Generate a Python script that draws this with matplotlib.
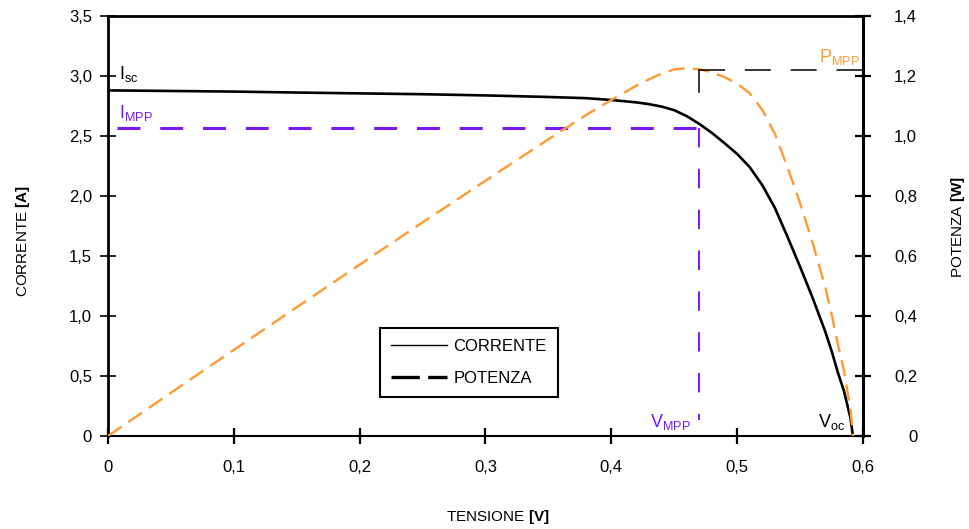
import matplotlib
matplotlib.use("Agg")
import matplotlib.pyplot as plt
from matplotlib.lines import Line2D

plt.rcParams['font.family'] = ['Liberation Sans', 'DejaVu Sans']
plt.rcParams['mathtext.fontset'] = 'custom'
plt.rcParams['mathtext.rm'] = 'Liberation Sans'
plt.rcParams['mathtext.it'] = 'Liberation Sans:italic'
plt.rcParams['mathtext.bf'] = 'Liberation Sans:bold'

# data
tensione = [0, 0.05, 0.1, 0.15, 0.2, 0.25, 0.3, 0.35, 0.38, 0.4, 0.42, 0.43, 0.44,
            0.45, 0.46, 0.47, 0.48, 0.49, 0.5, 0.51, 0.52, 0.53, 0.54, 0.55, 0.56,
            0.57, 0.575, 0.58, 0.585, 0.59, 0.592]
corrente = [2.88, 2.875, 2.87, 2.862, 2.855, 2.848, 2.838, 2.825, 2.815, 2.80, 2.78,
            2.765, 2.745, 2.715, 2.665, 2.60, 2.525, 2.44, 2.35, 2.24, 2.09, 1.90,
            1.66, 1.41, 1.15, 0.87, 0.71, 0.53, 0.37, 0.15, 0.0]
potenza = [0, 0.144, 0.287, 0.429, 0.571, 0.712, 0.851, 0.989, 1.070, 1.120, 1.168,
           1.189, 1.208, 1.222, 1.226, 1.222, 1.212, 1.196, 1.175, 1.142, 1.087,
           1.007, 0.896, 0.776, 0.644, 0.496, 0.408, 0.307, 0.216, 0.089, 0.0]

v_mpp = 0.47
i_mpp = 2.57
p_mpp = 1.22

x_ticks = [0, 0.1, 0.2, 0.3, 0.4, 0.5, 0.6]
x_labels = ["0", "0,1", "0,2", "0,3", "0,4", "0,5", "0,6"]
i_ticks = [0, 0.5, 1.0, 1.5, 2.0, 2.5, 3.0, 3.5]
i_labels = ["0", "0,5", "1,0", "1,5", "2,0", "2,5", "3,0", "3,5"]
p_ticks = [0, 0.2, 0.4, 0.6, 0.8, 1.0, 1.2, 1.4]
p_labels = ["0", "0,2", "0,4", "0,6", "0,8", "1,0", "1,2", "1,4"]

purple = '#7a18f2'
orange = '#ff9a33'

fig = plt.figure(figsize=(9.7, 5.29), dpi=100)
ax = fig.add_axes([0.1113, 0.1758, 0.7784, 0.794])
ax2 = ax.twinx()

ax.set_xlim(0, 0.6)
ax.set_ylim(0, 3.5)
ax2.set_ylim(0, 1.4)

# current curve
ax.plot(tensione, corrente, color='black', lw=1.9, zorder=3)

# MPP guides on current axis
ax.plot([0.007, v_mpp], [i_mpp, i_mpp], color=purple, lw=2.2, dashes=(7.5, 6.5), zorder=2)
ax.plot([v_mpp, v_mpp], [i_mpp, 0.13], color=purple, lw=1.4, dashes=(10, 11), zorder=2)

# power curve + guides on twin axis
ax2.plot(tensione, potenza, color=orange, lw=1.7, dashes=(7, 3.5))
ax2.plot([v_mpp, 0.6], [p_mpp, p_mpp], color='black', lw=1.1, dashes=(17, 13))
ax2.plot([v_mpp, v_mpp], [p_mpp, 1.145], color='black', lw=1.1)

# annotations
ax.text(0.009, 2.93, r"I$_{\rm sc}$", fontsize=13, ha='left', va='bottom')
ax.text(0.009, 2.61, r"I$_{\rm MPP}$", fontsize=13, ha='left', va='bottom', color=purple)
ax.text(0.4635, 0.035, r"V$_{\rm MPP}$", fontsize=13, ha='right', va='bottom', color=purple)
ax.text(0.586, 0.035, r"V$_{\rm oc}$", fontsize=13, ha='right', va='bottom')
ax2.text(0.5978, 1.23, r"P$_{\rm MPP}$", fontsize=13, ha='right', va='bottom', color=orange)

# axes styling
ax.set_xticks(x_ticks)
ax.set_xticklabels(x_labels)
ax.set_yticks(i_ticks)
ax.set_yticklabels(i_labels)
ax2.set_yticks(p_ticks)
ax2.set_yticklabels(p_labels)

ax.tick_params(axis='x', direction='inout', length=11, width=1.6, labelsize=12, pad=12)
ax.tick_params(axis='y', direction='inout', length=11, width=1.2, labelsize=12, pad=6)
ax2.tick_params(axis='y', direction='inout', length=12, width=1.6, labelsize=12, pad=33)
for lab in ax2.get_yticklabels():
    lab.set_horizontalalignment('right')

for s in ['left', 'top']:
    ax.spines[s].set_linewidth(2.0)
ax.spines['bottom'].set_linewidth(1.5)
ax.spines['right'].set_visible(False)
for s in ['left', 'top', 'bottom']:
    ax2.spines[s].set_visible(False)
ax2.spines['right'].set_linewidth(2.2)

# axis titles
fig.text(0.0237, 0.544, r"CORRENTE $\mathbf{[A]}$", rotation=90, fontsize=11,
         ha='center', va='center')
fig.text(0.9876, 0.571, r"POTENZA $\mathbf{[W]}$", rotation=90, fontsize=11,
         ha='center', va='center')
fig.text(0.5134, 0.0227, r"TENSIONE $\mathbf{[V]}$", fontsize=11,
         ha='center', va='center')

# legend (black handles as in the reference)
handles = [Line2D([], [], color='black', lw=1.0),
           Line2D([], [], color='black', lw=2.4, dashes=(8.5, 2.5))]
leg = ax2.legend(handles, ["CORRENTE", "POTENZA"], loc='lower left',
                 bbox_to_anchor=(0.360, 0.093), borderaxespad=0, fontsize=12,
                 frameon=True, fancybox=False, framealpha=1, edgecolor='black',
                 handlelength=3.35, handletextpad=0.42, borderpad=0.66,
                 labelspacing=1.0)
leg.get_frame().set_linewidth(1.5)

fig.savefig("out.png", dpi=100)
